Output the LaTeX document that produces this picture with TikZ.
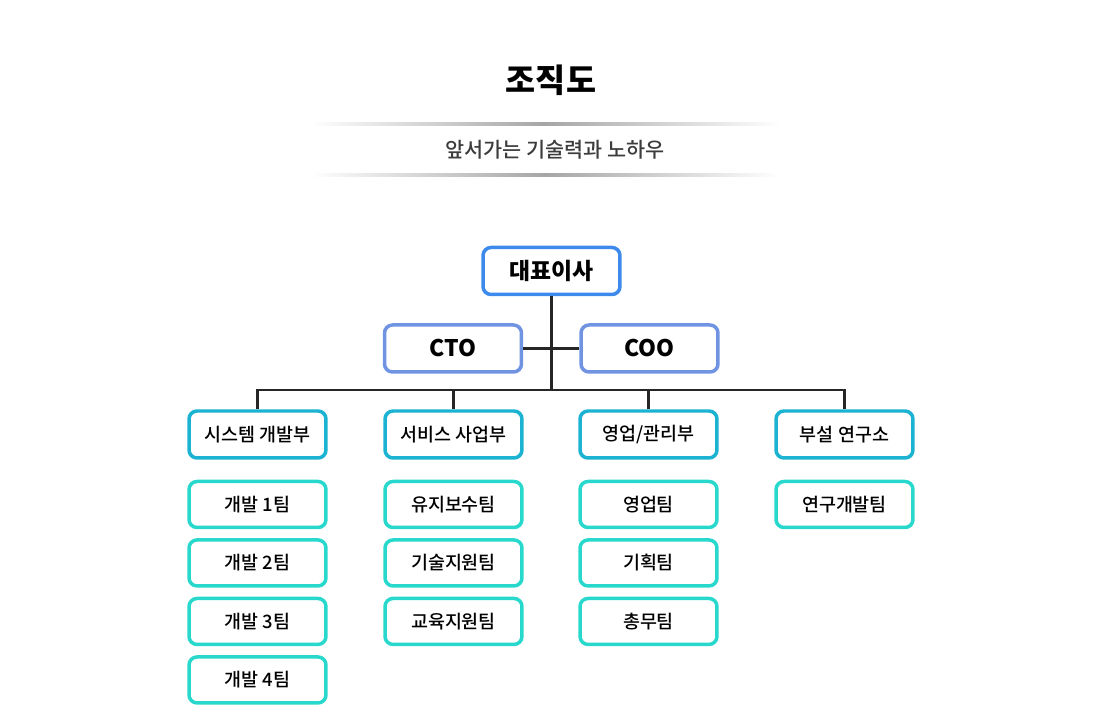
\documentclass[tikz,border=0pt]{standalone}
\usepackage{fontspec}
\setmainfont{Noto Sans CJK KR}
\newfontfamily\krmedium{Noto Sans CJK KR Medium}
\usepackage{tikz}
\usetikzlibrary{positioning}
\definecolor{ceoblue}{RGB}{62,138,236}
\definecolor{cxoblue}{RGB}{112,148,226}
\definecolor{deptcyan}{RGB}{28,178,210}
\definecolor{teamcyan}{RGB}{40,216,204}
\definecolor{subgray}{RGB}{60,60,60}
\tikzset{
  ceobox/.style ={draw=ceoblue, line width=0.07cm, rounded corners=0.16cm, fill=white,
                  minimum width=2.74cm, minimum height=0.94cm, font=\fontsize{13}{15}\selectfont\bfseries},
  cxobox/.style ={ceobox, draw=cxoblue},
  deptbox/.style={draw=deptcyan, line width=0.07cm, rounded corners=0.16cm, fill=white,
                  minimum width=2.74cm, minimum height=0.94cm, font=\fontsize{10.5}{12}\selectfont\krmedium},
  teambox/.style={deptbox, draw=teamcyan, minimum height=0.92cm},
  link/.style   ={line width=0.05cm, draw=black!85},
}

\begin{document}
\begin{tikzpicture}[x=0.02cm, y=-0.02cm, node distance=0.18cm]
  \useasboundingbox (0,0) rectangle (1100,722);
  % title
  \node[font=\fontsize{18.6}{20}\selectfont\bfseries] (title) at (551,80) {조직도};
  \shade[left color=white, right color=white, middle color=black!35] (310,123) rectangle (780,125.5);
  \node[font=\fontsize{11.8}{13}\selectfont\krmedium, text=subgray] (sub) at (555,150) {앞서가는 기술력과 노하우};
  \shade[left color=white, right color=white, middle color=black!35] (310,174) rectangle (780,176.5);
  % top
  \node[ceobox] (ceo) at (551.5,271) {대표이사};
  \node[cxobox] (cto) at (453,348.5) {CTO};
  \node[cxobox] (coo) at (649.5,348.5) {COO};
  \coordinate (bus) at (551.5,390);
  % departments
  \node[deptbox] (dev) at (257.5,434.5) {시스템 개발부};
  \node[deptbox] (svc) at (453.5,434.5) {서비스 사업부};
  \node[deptbox] (biz) at (648.5,434.5) {영업/관리부};
  \node[deptbox] (lab) at (844.5,434.5) {부설 연구소};
  % teams
  \node[teambox, below=0.4cm of dev] (dev1) {개발 1팀};
  \node[teambox, below=of dev1] (dev2) {개발 2팀};
  \node[teambox, below=of dev2] (dev3) {개발 3팀};
  \node[teambox, below=of dev3] (dev4) {개발 4팀};
  \node[teambox, below=0.4cm of svc] (svc1) {유지보수팀};
  \node[teambox, below=of svc1] (svc2) {기술지원팀};
  \node[teambox, below=of svc2] (svc3) {교육지원팀};
  \node[teambox, below=0.4cm of biz] (biz1) {영업팀};
  \node[teambox, below=of biz1] (biz2) {기획팀};
  \node[teambox, below=of biz2] (biz3) {총무팀};
  \node[teambox, below=0.4cm of lab] (lab1) {연구개발팀};
  % links
  \draw[link] (ceo) -- (bus);
  \draw[link] (cto) -- (coo);
  \draw[link] (dev.north) |- (bus) -| (lab.north);
  \draw[link] (svc.north) |- (bus);
  \draw[link] (biz.north) |- (bus);
\end{tikzpicture}
\end{document}
